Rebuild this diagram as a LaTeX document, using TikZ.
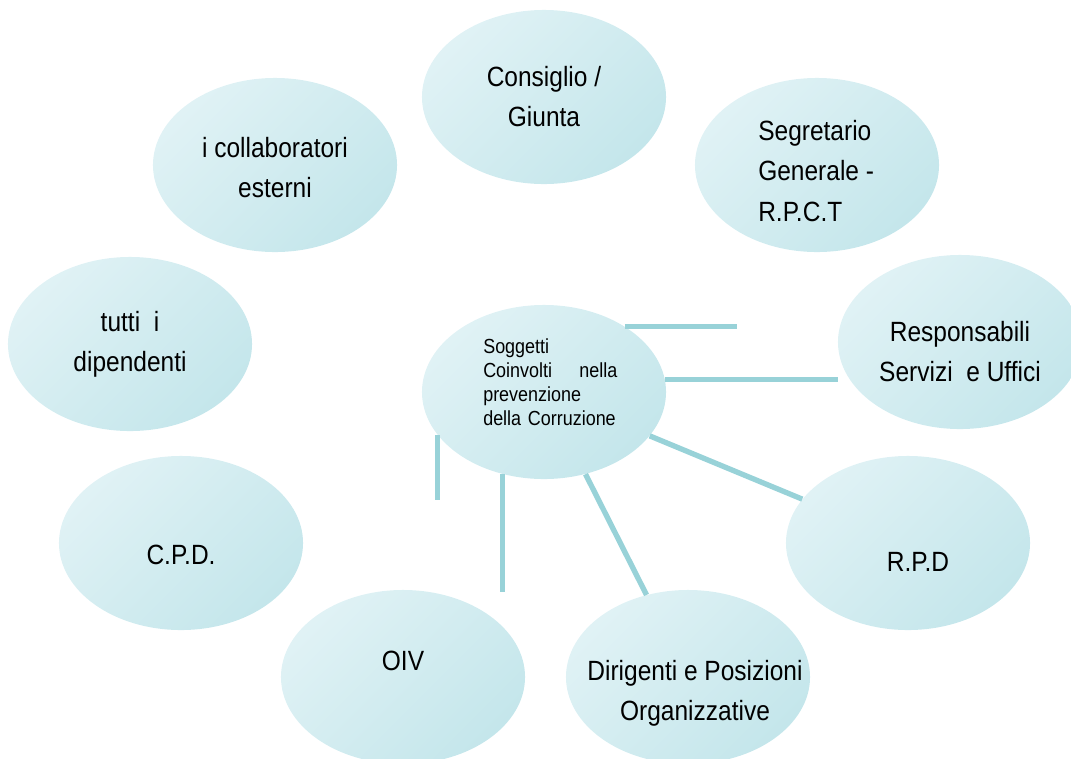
\documentclass[tikz,border=0pt]{standalone}
\usepackage{fontspec}
\setmainfont{Liberation Sans}[FakeStretch=0.88]
\usepackage{xcolor}
\usetikzlibrary{shapes.geometric}

\definecolor{ballLight}{RGB}{224,242,245}
\definecolor{ballDark}{RGB}{196,230,235}
\definecolor{linkCol}{RGB}{152,210,216}

\tikzset{
  ball/.style={ellipse, minimum width=6.1cm, minimum height=4.35cm, inner sep=0pt,
    top color=ballLight, bottom color=ballDark, shading angle=45},
  lbl/.style={font=\fontsize{19.8}{28.5}\selectfont, align=center, inner sep=0pt},
  small/.style={font=\fontsize{14.5}{17}\selectfont, align=left, text width=3.35cm, inner sep=0pt},
  link/.style={draw=linkCol, line width=3.8pt}
}

\begin{document}
\begin{tikzpicture}[x=0.025cm, y=-0.025cm]
\useasboundingbox (0,0) rectangle (1071,758);

% the ten balls
\node[ball] (cons) at (544,97) {};
\node[ball] (segr) at (817,165) {};
\node[ball] (coll) at (275,165) {};
\node[ball] (tutti) at (130,344) {};
\node[ball] (resp) at (960,342) {};
\node[ball] (cen) at (544,392) {};
\node[ball] (cpd) at (181,543) {};
\node[ball] (rpd) at (908,543) {};
\node[ball] (oiv) at (403,677) {};
\node[ball] (dir) at (688,677) {};

% texts
\node[lbl] (consT) at (cons) {Consiglio /\\Giunta};
\node[lbl, align=left, anchor=west] (segrT) at (758,171) {Segretario\\Generale -\\R.P.C.T};
\node[lbl] (collT) at (275,168) {i collaboratori\\esterni};
\node[lbl] (tuttiT) at (130,344) {tutti~ i\\dipendenti};
\node[lbl] (respT) at (960,352) {Responsabili\\Servizi~ e Uffici};
\node[small, anchor=west] (cenT) at (483,382) {Soggetti\\Coinvolti\hfill nella\\prevenzione\\della Corruzione};
\node[lbl] (cpdT) at (181,555) {C.P.D.};
\node[lbl] (rpdT) at (918,562) {R.P.D};
\node[lbl] (oivT) at (403,661) {OIV};
\node[lbl] (dirT) at (695,693) {Dirigenti e Posizioni\\Organizzative};

% free ends
\coordinate (upEnd) at (737,328);
\coordinate (oivEnd) at (504,592);
\coordinate (cpdEnd) at (439,500);

% connectors
\draw[link] (cen.39) -- (cen.39 -| upEnd);
\draw[link] (cen.6) -- (cen.6 -| resp.west);
\draw[link] (cen) -- (rpd);
\draw[link] (cen) -- (dir);
\draw[link] (cen.243) -- (cen.243 |- oivEnd);
\draw[link] (cen.202) -- (cen.202 |- cpdEnd);
\end{tikzpicture}
\end{document}
